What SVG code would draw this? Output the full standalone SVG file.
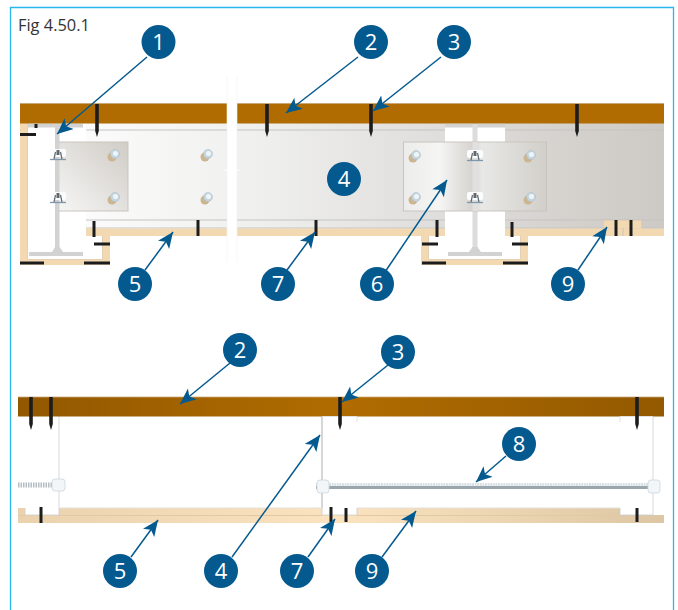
<svg xmlns="http://www.w3.org/2000/svg" width="678" height="610" viewBox="0 0 678 610">
<style>
.num{font-family:"Open Sans","Noto Sans",sans-serif;font-size:22px;fill:#fff;text-anchor:middle}
.fig{font-family:"Open Sans","Noto Sans",sans-serif;font-size:16.400px;fill:#333}
.bub{fill:#045a8f}
.con{stroke:#045a8f;stroke-width:1.500;fill:none;marker-end:url(#ah)}
.scr{stroke:#1c1c1c;stroke-width:3;fill:none}
.tim{fill:#f3d9b2}
.edge{stroke:#c8c2b8;stroke-width:.8;fill:none}
.ln{stroke:#c4c4c2;stroke-width:1;fill:none}
.bar{fill:#d2d2d2;stroke:none}
.pl{stroke:#c9c5be;stroke-width:1}
.nut{fill:#f2f6f8;stroke:#ccd5da;stroke-width:.8}
</style>
<defs>
<marker id="ah" markerUnits="userSpaceOnUse" markerWidth="18" markerHeight="16" refX="16" refY="7" orient="auto"><path d="M0 0L16 7L0 14L4 7Z" fill="#045a8f"/></marker>
<linearGradient id="webR" gradientUnits="userSpaceOnUse" x1="86" x2="664" y1="0" y2="0"><stop offset="0" stop-color="#fbfbfb"/><stop offset=".3" stop-color="#efefee"/><stop offset=".55" stop-color="#e2e1df"/><stop offset="1" stop-color="#cdc9c4"/></linearGradient>
<linearGradient id="p1" x1="0" x2="1" y1="1" y2="0"><stop offset="0" stop-color="#f6f6f5"/><stop offset="1" stop-color="#d0ccc6"/></linearGradient>
<linearGradient id="p2" x1="0" x2="1" y1="0" y2="0"><stop offset="0" stop-color="#ececea"/><stop offset=".25" stop-color="#f5f5f4"/><stop offset=".48" stop-color="#d6d4d0"/><stop offset=".55" stop-color="#e8e8e6"/><stop offset="1" stop-color="#d2cfca"/></linearGradient>
<linearGradient id="jst" x1="0" x2="1" y1="0" y2="0"><stop offset="0" stop-color="#925800"/><stop offset=".5" stop-color="#b06c00"/><stop offset="1" stop-color="#935900"/></linearGradient>
<linearGradient id="tmb" x1="0" x2="1" y1="0" y2="0"><stop offset="0" stop-color="#e9d2ad"/><stop offset=".5" stop-color="#fbe3bf"/><stop offset="1" stop-color="#dcc6a4"/></linearGradient>
<g id="bolt"><circle cx="-2" cy="2" r="4.500" fill="#cdb592"/><circle cx="1" cy="-1" r="4.500" fill="#c5d6df" stroke="#a9b8c0" stroke-width=".5"/><circle cx="1.500" cy="-1.500" r="2.500" fill="#eef5f8"/></g>
<g id="clip"><rect x="-8" y="-6" width="16" height="8" rx="2" fill="#fbfcfd"/><path d="M-8 4.500L8 4.500" stroke="#7f98ab" stroke-width="1.300"/><path d="M-2.500 -3L-4 4M2.500 -3L4 4" stroke="#5c6a74" stroke-width="1.200" fill="none"/><rect x="-1.500" y="-5" width="3" height="5" fill="#666"/></g>
<g id="screw"><path d="M-1.800 0H1.800V27L0 33L-1.800 27Z" fill="#1c1c1c"/></g>
</defs>
<rect width="678" height="610" fill="#fff"/>
<path d="M10.500 610V7.500H673.500V610" fill="none" stroke="#29b6ef" stroke-width="1.300"/>
<text class="fig" x="18" y="30.500">Fig 4.50.1</text>

<g id="top-section">
<rect x="86" y="123" width="359" height="106" fill="url(#webR)"/>
<rect x="505" y="123" width="159" height="106" fill="url(#webR)"/>
<path class="ln" d="M86 130H445M505 130H664M86 220H445M505 220H664M86 228H445M505 228H664"/>
<path class="tim" d="M86 228.500H445V236H86Z"/>
<path class="tim" d="M505 228.500H664V236H505Z"/>
<path class="tim" d="M604 220H642V228.500H604Z"/>
<path class="edge" d="M604 220H642V228M623 228V236"/>
<path class="tim" d="M20 123H28V259H102V236H110V265H20Z"/>
<path class="edge" d="M28 123V259H102V236"/>
<path class="tim" d="M421 236H429V259H520V236H528V265H421Z"/>
<path class="edge" d="M429 236V259H520V236"/>
<rect x="28" y="123" width="58" height="136" fill="#fff"/>
<rect x="86" y="229" width="16" height="30" fill="#fff"/>
<path class="tim" d="M86 228.500H110V236H86Z"/>
<rect x="28" y="123.500" width="55" height="4" class="bar"/>
<rect x="55" y="127" width="4.500" height="126" class="bar"/>
<path class="bar" d="M29 252H83V256H29Z"/>
<path class="bar" d="M52 252L55 247H59.500L63 252Z"/>
<rect x="445" y="123" width="60" height="19" fill="#fff"/>
<rect x="445" y="210" width="60" height="26" fill="#fff"/>
<rect x="429" y="236" width="91" height="23" fill="#fff"/>
<rect x="445" y="123.500" width="60" height="4" class="bar"/>
<rect x="472.500" y="123" width="5" height="130" fill="#dcdcdc"/>
<path class="bar" d="M448 252H502V256H448Z"/>
<path class="bar" d="M469 252L472.500 247H477.500L481 252Z"/>
<rect x="58" y="142" width="70" height="69" fill="url(#p1)" class="pl"/>
<rect x="403.500" y="142" width="143" height="69" fill="url(#p2)" class="pl"/>
<rect x="472.500" y="142" width="5" height="69" fill="#e0e0e0"/>
<rect x="55" y="142" width="4.500" height="69" class="bar"/>
<rect x="20" y="103.500" width="644" height="20" fill="#b06c00"/>
<path d="M20 103.500H664" stroke="#c9a878" stroke-width="1"/>
<use href="#clip" x="58" y="155"/><use href="#clip" x="58" y="198"/>
<use href="#clip" x="475" y="156"/><use href="#clip" x="475" y="198"/>
<use href="#bolt" x="114" y="155"/><use href="#bolt" x="114" y="198"/>
<use href="#bolt" x="207" y="155"/><use href="#bolt" x="207" y="198"/>
<use href="#bolt" x="415" y="156"/><use href="#bolt" x="415" y="198"/>
<use href="#bolt" x="530" y="156"/><use href="#bolt" x="530" y="198"/>
<use href="#screw" x="97" y="104"/><use href="#screw" x="267" y="104"/><use href="#screw" x="371" y="104"/><use href="#screw" x="577" y="104"/>
<path class="scr" d="M36 124V128M20 134.500H36M94 221V237M198 220V236M316 220V236M437 220V237M512 222V237M616 220V236M631 220V236M94 244H110M20 263H44M84 263H110M422 244H438M512 244H528M422 263H446M503 263H528"/>
<rect x="227" y="76" width="10" height="186" fill="#fff"/>
<path d="M224 170L229 168H235L240 170L235 172H229Z" fill="#fff"/>
<path d="M227 76V262M237 76V262" stroke="#f1f1f1" stroke-width=".6"/>
</g>

<g id="bottom-section">
<path d="M59 416V515M653 416V515" stroke="#d9d9d9" stroke-width="1"/>
<path d="M322 416V515" stroke="#d2d2d2" stroke-width="1.800"/>
<rect x="18" y="508" width="646" height="15" fill="url(#tmb)"/>
<path d="M25 508H59V515H25ZM322 508H357V515H322ZM620 508H653V515H620ZM653 508H664V515H653Z" fill="#fff"/>
<path d="M18 515.500H25M59 515.500H322M357 515.500H620" stroke="#e2c9a2" stroke-width="1"/>
<path d="M25 508V515H59V508M322 508V515H357V508M620 508V515H653V508" stroke="#ccc" stroke-width=".8" fill="none"/>
<path d="M59 508H322M357 508H620" stroke="#e3e0da" stroke-width="1"/>
<rect x="18" y="397" width="646" height="19.500" fill="url(#jst)"/>
<path d="M18 397H664" stroke="#c9a878" stroke-width=".8"/>
<path d="M322 416.500H357V422M620 422V416.500H653" stroke="#e2e2e2" stroke-width="1" fill="none"/>
<path d="M18 485H53" stroke="#b4bcc2" stroke-width="5" stroke-dasharray="1.500 1"/>
<path d="M316 487.500H660" stroke="#9aa6ae" stroke-width="3"/>
<path d="M316 484.500H660" stroke="#dbe2e6" stroke-width="3" stroke-dasharray="2 .6"/>
<rect x="52" y="479" width="13" height="12" rx="3" class="nut"/>
<rect x="317" y="480" width="12" height="13" rx="3" class="nut"/>
<rect x="648" y="480" width="12" height="13" rx="3" class="nut"/>
<use href="#screw" x="31" y="397"/><use href="#screw" x="51" y="397"/><use href="#screw" x="340" y="397"/><use href="#screw" x="637" y="397"/>
<path class="scr" d="M41 507V523M331 507V522M346 508V522M637 508V522"/>
</g>

<g id="connectors">
<path class="con" d="M147 57L57 134"/>
<path class="con" d="M358 57L286 113"/>
<path class="con" d="M441 57L373 111"/>
<path class="con" d="M385 272L447 180"/>
<path class="con" d="M145 270L173 232"/>
<path class="con" d="M287 270L315 232"/>
<path class="con" d="M578 270L607 227"/>
<path class="con" d="M230 363L180 404"/>
<path class="con" d="M388 365L342 402"/>
<path class="con" d="M506 456L476 482"/>
<path class="con" d="M232 557L320 435"/>
<path class="con" d="M131 557L158 520"/>
<path class="con" d="M308 557L335 519"/>
<path class="con" d="M382 557L416 511"/>
</g>

<g id="n1"><circle class="bub" cx="158.500" cy="42" r="17"/><text class="num" x="158.500" y="50">1</text></g>
<g id="n2"><circle class="bub" cx="371" cy="42" r="17"/><text class="num" x="371" y="50">2</text></g>
<g id="n3"><circle class="bub" cx="454" cy="42" r="17"/><text class="num" x="454" y="50">3</text></g>
<g id="n4"><circle class="bub" cx="344" cy="179" r="17"/><text class="num" x="344" y="187">4</text></g>
<g id="n5"><circle class="bub" cx="135" cy="284" r="17"/><text class="num" x="135" y="292">5</text></g>
<g id="n7"><circle class="bub" cx="278" cy="284" r="17"/><text class="num" x="278" y="292">7</text></g>
<g id="n6"><circle class="bub" cx="377" cy="284" r="17"/><text class="num" x="377" y="292">6</text></g>
<g id="n9"><circle class="bub" cx="568" cy="284" r="17"/><text class="num" x="568" y="292">9</text></g>
<g id="n2b"><circle class="bub" cx="240" cy="350" r="17"/><text class="num" x="240" y="358">2</text></g>
<g id="n3b"><circle class="bub" cx="398" cy="352" r="17"/><text class="num" x="398" y="360">3</text></g>
<g id="n8"><circle class="bub" cx="519" cy="444" r="17"/><text class="num" x="519" y="452">8</text></g>
<g id="n5b"><circle class="bub" cx="120" cy="571" r="17"/><text class="num" x="120" y="579">5</text></g>
<g id="n4b"><circle class="bub" cx="221" cy="571" r="17"/><text class="num" x="221" y="579">4</text></g>
<g id="n7b"><circle class="bub" cx="297" cy="571" r="17"/><text class="num" x="297" y="579">7</text></g>
<g id="n9b"><circle class="bub" cx="372" cy="571" r="17"/><text class="num" x="372" y="579">9</text></g>
</svg>
